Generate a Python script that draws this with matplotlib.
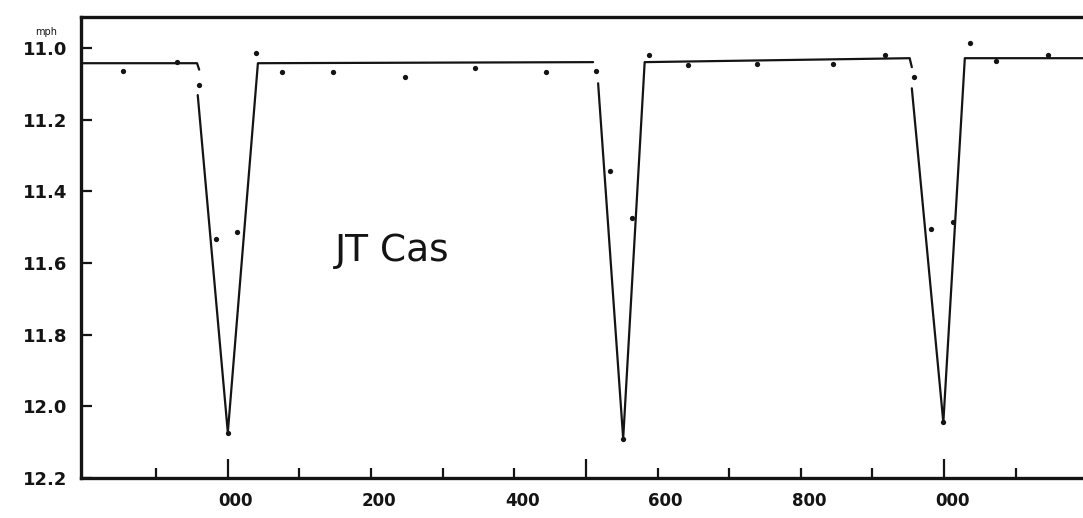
import numpy as np
import matplotlib
matplotlib.use("Agg")
import matplotlib.pyplot as plt
from matplotlib.transforms import ScaledTranslation

# observed points (time axis units, magnitude)
obs_t = [-147, -71, -40, -16, 13, 39, 75, 147, 247, 345, 444, 514, 534, 564,
         588, 642, 739, 845, 918, 958, 982, 1013, 1036, 1073, 1145,
         0, 552, 999]
obs_mag = [11.064, 11.039, 11.103, 11.534, 11.514, 11.014, 11.067, 11.067,
           11.081, 11.056, 11.067, 11.064, 11.343, 11.475, 11.020, 11.047,
           11.045, 11.045, 11.020, 11.081, 11.506, 11.486, 10.986, 11.036,
           11.020, 12.073, 12.09, 12.045]

# drawn light curve (NaN = pen lifted)
curve_t = [-205, -43, -40, np.nan,
           -42, 0, 42, 510, np.nan,
           517, 552, 582, 952, 955, np.nan,
           955, 999, 1029, 1194]
curve_mag = [11.042, 11.042, 11.06, np.nan,
             11.131, 12.073, 11.042, 11.039, np.nan,
             11.098, 12.09, 11.039, 11.028, 11.053, np.nan,
             11.112, 12.045, 11.028, 11.028]

x_major = [0, 200, 400, 600, 800, 1000]
x_labels = ["000", "200", "400", "600", "800", "000"]
x_minor = [-100, 100, 300, 500, 700, 900, 1100]
y_ticks = [11.0, 11.2, 11.4, 11.6, 11.8, 12.0, 12.2]
y_labels = ["11.0", "11.2", "11.4", "11.6", "11.8", "12.0", "12.2"]
star_name = "JT Cas"

fig = plt.figure(figsize=(10.83, 5.18), dpi=100)
ax = fig.add_axes([81 / 1083, 40 / 518, 1 - 81 / 1083, 461 / 518])
ink = "#141414"

ax.plot(curve_t, curve_mag, color=ink, lw=1.6, solid_capstyle="round")
ax.plot(obs_t, obs_mag, "o", color=ink, ms=3.8, mec="none")

ax.set_xlim(-205, 1194)
ax.set_ylim(12.2, 10.913)

for s in ["left", "bottom", "top"]:
    ax.spines[s].set_linewidth(2.4)
    ax.spines[s].set_color(ink)
ax.spines["right"].set_visible(False)

ax.set_xticks(x_major)
ax.set_xticklabels(x_labels, fontsize=12, fontweight="bold", color=ink)
ax.set_xticks(x_minor, minor=True)
ax.set_yticks(y_ticks)
ax.set_yticklabels(y_labels, fontsize=13, fontweight="bold", color=ink)
ax.tick_params(axis="x", which="major", direction="in", length=7, width=1.6,
               pad=10, color=ink)
ax.tick_params(axis="x", which="minor", direction="in", length=7, width=1.6,
               color=ink)
ax.tick_params(axis="y", direction="in", length=8, width=1.6, pad=10, color=ink)

# taller ticks at the cycle marks
for i in (0, 5):
    ax.xaxis.get_major_ticks()[i].tick1line.set_markersize(14)
ax.xaxis.get_minor_ticks()[3].tick1line.set_markersize(14)

off = ScaledTranslation(8 / 100, 0, fig.dpi_scale_trans)
for lab in ax.get_xticklabels():
    lab.set_transform(lab.get_transform() + off)

ax.text(229, 11.567, star_name, fontsize=27, ha="center", va="center",
        color=ink, family="DejaVu Sans")
fig.text(35 / 1083, 1 - 32 / 518, "mph", fontsize=7, color=ink,
         ha="left", va="center")

fig.savefig("out.png", dpi=100, facecolor="white")
